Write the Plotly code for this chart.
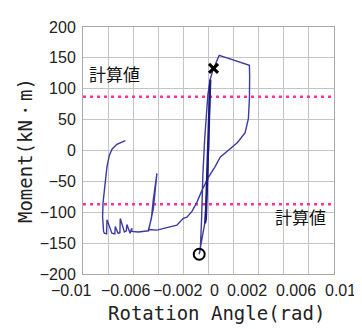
import plotly.graph_objects as go

# ---- data (rotation angle [rad], moment [kN·m]) ----
band_x = [0.0, 0.00010, -0.00018, 0.00013, -0.00022, 0.00015, -0.00020, 0.00012,
          -0.00025, 0.00016, -0.00019, 0.00014]
band_y = [0.0, 105, -100, 112, -115, 108, -110, 114, -118, 115, -112, 113]

loop_x = [0.00014, -0.00010, -0.00030, -0.00060, -0.00074, -0.00065, -0.00055, -0.00045,
          -0.00030, -0.00005, 0.00013, 0.00040, 0.00085, 0.00326, 0.00328, 0.00326,
          0.00318, 0.00292, 0.00231, 0.00159, 0.00093, 0.00053, 0.0, -0.00053,
          -0.00093, -0.00133, -0.00172, -0.00200, -0.00212, -0.00252, -0.00332,
          -0.00411, -0.00478, -0.00455, -0.00440, -0.00411, -0.00440, -0.00470,
          -0.00478, -0.00560, -0.00610, -0.00612, -0.00625, -0.00650, -0.00655,
          -0.00670, -0.00703, -0.00706, -0.00720, -0.00743, -0.00746, -0.00770,
          -0.00809, -0.00812, -0.00830, -0.00836, -0.00842, -0.00844, -0.00840,
          -0.00823, -0.00809, -0.00790, -0.00769, -0.00730, -0.00663]
loop_y = [113, -60, -118, -150, -168, -160, -110, -40,
          20, 90, 115, 133, 154, 138, 120, 84,
          52, 29, 13, 0, -11, -26, -43, -65,
          -84, -99, -108, -110, -112, -121, -125,
          -129, -128, -110, -80, -37, -95, -125,
          -130, -132, -131, -126, -134, -120, -130,
          -132, -110, -133, -134, -123, -135, -134,
          -112, -135, -134, -131, -120, -107, -84,
          -55, -26, -8, 2, 10, 16]

calc_values = [87, -87]              # 計算値 lines
calc_label = "計算値"

peak_x_marker = [0.00040]            # ×
peak_y_marker = [133]
min_x_marker = [-0.00074]            # ○
min_y_marker = [-168]

x_range = [-0.01, 0.01]
x_tick_labels = ["−0.01", "−0.006", "−0.002", "0", "0.002", "0.006", "0.01"]
x_tick_pos = [-0.01093, -0.00664, -0.00245, 0.00050, 0.00305, 0.00698, 0.01053]
y_ticks = [-200, -150, -100, -50, 0, 50, 100, 150, 200]

fig = go.Figure()

for v in calc_values:
    fig.add_trace(go.Scatter(x=x_range, y=[v, v], mode="lines",
                             line=dict(color="#ff3399", width=2.5, dash="3px,4px"),
                             hoverinfo="skip", showlegend=False))

fig.add_trace(go.Scatter(x=loop_x, y=loop_y, mode="lines",
                         line=dict(color="#3c3ca0", width=1.4), showlegend=False))
fig.add_trace(go.Scatter(x=band_x, y=band_y, mode="lines",
                         line=dict(color="#1a1a80", width=1.8), showlegend=False))

fig.add_trace(go.Scatter(x=peak_x_marker, y=peak_y_marker, mode="markers",
                         marker=dict(symbol="x-thin", size=9, color="black",
                                     line=dict(color="black", width=3)),
                         showlegend=False))
fig.add_trace(go.Scatter(x=min_x_marker, y=min_y_marker, mode="markers",
                         marker=dict(symbol="circle-open", size=11, color="black",
                                     line=dict(color="black", width=2)),
                         showlegend=False))

for t, p in zip(x_tick_labels, x_tick_pos):
    fig.add_annotation(x=(p - x_range[0]) / (x_range[1] - x_range[0]), y=-0.068,
                       xref="paper", yref="paper", text=t, showarrow=False,
                       font=dict(family="Liberation Sans, Arial", size=16, color="#222"),
                       xanchor="center", yanchor="middle")

fig.add_annotation(x=-0.00751, y=125, xref="x", yref="y", text=calc_label, showarrow=False,
                   xanchor="center", yanchor="middle",
                   font=dict(family="Noto Sans CJK JP", size=17, color="#111"))
fig.add_annotation(x=0.00731, y=-107, xref="x", yref="y", text=calc_label, showarrow=False,
                   xanchor="center", yanchor="middle",
                   font=dict(family="Noto Sans CJK JP", size=17, color="#111"))

fig.add_annotation(x=-0.231, y=0.498, xref="paper", yref="paper", text="Moment(kN・m)",
                   textangle=-90, showarrow=False, xanchor="center", yanchor="middle",
                   font=dict(family="DejaVu Sans Mono", size=19, color="#222"))
fig.add_annotation(x=0.53, y=-0.158, xref="paper", yref="paper", text="Rotation Angle(rad)",
                   showarrow=False, xanchor="center", yanchor="middle",
                   font=dict(family="DejaVu Sans Mono", size=19, color="#222"))

fig.update_xaxes(range=x_range, dtick=0.002, tick0=-0.01, showticklabels=False,
                 showgrid=True, gridcolor="#c4c4c4", gridwidth=1, zeroline=False,
                 showline=True, linecolor="#a8a8a8", linewidth=1, mirror=True, ticks="")
fig.update_yaxes(range=[-200, 200], tickvals=y_ticks, showgrid=True, gridcolor="#c4c4c4",
                 gridwidth=1, zeroline=False, showline=True, linecolor="#a8a8a8",
                 linewidth=1, mirror=True, ticks="", ticklabelstandoff=3,
                 tickfont=dict(family="Liberation Sans, Arial", size=16, color="#222"))

fig.update_layout(width=354, height=321, margin=dict(l=75, r=28, t=11, b=55),
                  plot_bgcolor="white", paper_bgcolor="white")

fig.write_html("out.html")
